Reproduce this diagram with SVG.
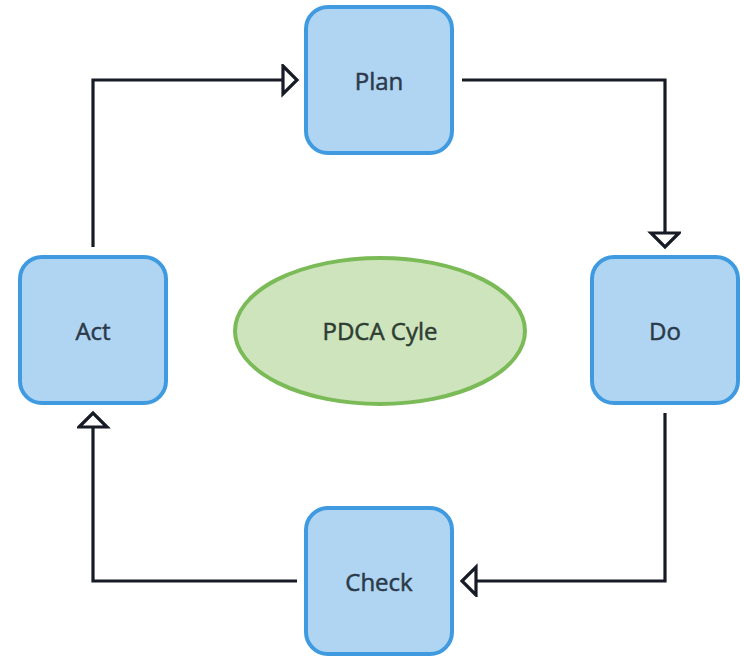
<svg xmlns="http://www.w3.org/2000/svg" width="744" height="658" viewBox="0 0 744 658">
  <defs>
    <marker id="arrow" markerUnits="userSpaceOnUse" markerWidth="20" markerHeight="34" refX="16" refY="16" orient="auto" viewBox="0 0 20 34">
      <path d="M2,2 L16,16 L2,30 Z" fill="#ffffff" stroke="#161b26" stroke-width="3.2" stroke-linejoin="miter"/>
    </marker>
    <style>
      .box { fill: #afd5f2; stroke: #3f9ae0; stroke-width: 4; }
      .ell { fill: #cde4bc; stroke: #7bbb57; stroke-width: 4; }
      .lbl { font-family: "Open Sans", "Noto Sans", "Liberation Sans", sans-serif; font-size: 24px; font-weight: 400; fill: #2b3949; stroke: #2b3949; stroke-width: 0.5; text-anchor: middle; dominant-baseline: central; }
      .lbl2 { fill: #2e3d33; stroke: #2e3d33; }
      .edge { fill: none; stroke: #161b26; stroke-width: 3.2; stroke-linejoin: miter; marker-end: url(#arrow); }
    </style>
  </defs>
  <rect width="744" height="658" fill="#ffffff"/>
  <g id="connectors">
    <path class="edge" d="M462,80 H665 V247"/>
    <path class="edge" d="M665,413 V581 H462"/>
    <path class="edge" d="M297,581 H93 V413"/>
    <path class="edge" d="M93,247 V80 H297"/>
  </g>
  <g id="plan">
    <rect class="box" x="306" y="7" width="146" height="146" rx="22"/>
    <text class="lbl" x="379" y="80">Plan</text>
  </g>
  <g id="do">
    <rect class="box" x="592" y="257" width="146" height="146" rx="22"/>
    <text class="lbl" x="665" y="330">Do</text>
  </g>
  <g id="check">
    <rect class="box" x="306" y="508" width="146" height="146" rx="22"/>
    <text class="lbl" x="379" y="581">Check</text>
  </g>
  <g id="act">
    <rect class="box" x="20" y="257" width="146" height="146" rx="22"/>
    <text class="lbl" x="93" y="330">Act</text>
  </g>
  <g id="pdca">
    <ellipse class="ell" cx="380" cy="331" rx="145" ry="73"/>
    <text class="lbl lbl2" x="380" y="330">PDCA Cyle</text>
  </g>
</svg>
